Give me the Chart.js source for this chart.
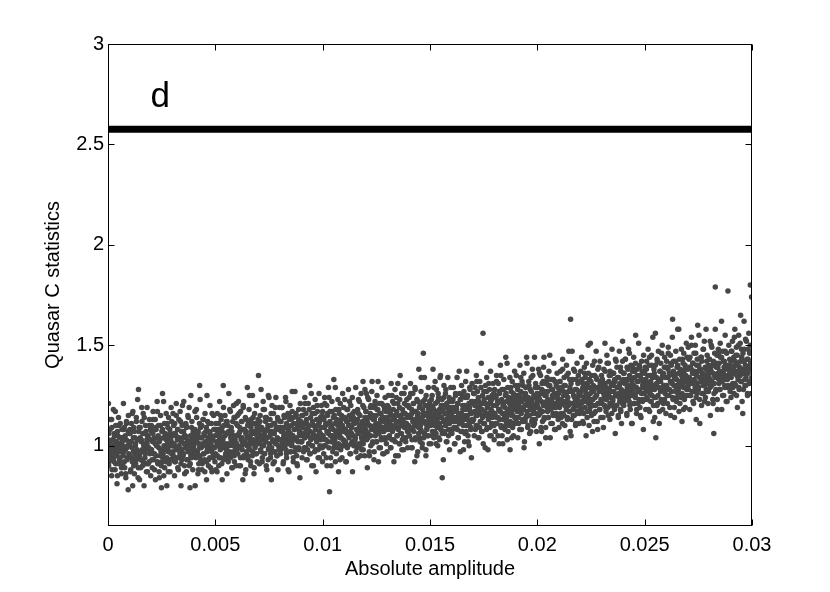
<!DOCTYPE html>
<html>
<head>
<meta charset="utf-8">
<script src="https://cdn.jsdelivr.net/npm/chart.js@4/dist/chart.umd.min.js"></script>
<style>
html,body{margin:0;padding:0;background:#fff;}
#wrap{width:830px;height:592px;}
</style>
</head>
<body>
<div id="wrap"><canvas id="c" width="830" height="592"></canvas></div>
<script>
// ---- data ----
// amplitude in units of 1e-5, C statistic in hundredths
const AMP_UNIT = 1e-5;
const C_UNIT = 0.01;
const amplitudeA = [
0,2,5,7,9,12,14,17,19,22,24,27,29,31,34,36,39,41,44,46,49,51,54,56,58,61,63,66,68,71,73,76,78,81,83,86,88,91,94,97,
101,103,106,108,111,113,115,118,120,123,125,128,130,132,135,137,140,142,145,147,150,152,155,157,159,162,164,167,169,172,174,177,179,182,184,187,189,192,195,198,
200,203,205,208,210,212,215,217,220,222,225,227,230,232,234,237,239,242,244,247,249,252,254,257,259,261,264,266,269,271,274,276,279,281,283,286,288,291,294,297,
301,303,306,308,311,313,316,318,321,323,325,328,330,333,335,338,340,342,345,347,350,352,355,357,360,362,364,367,369,372,374,377,379,382,384,386,389,391,394,397,
400,402,405,407,410,412,414,417,419,422,424,427,429,431,434,436,439,441,444,446,449,451,453,456,458,461,463,466,468,470,473,475,478,480,483,485,488,490,493,496,
501,503,506,508,511,513,515,518,520,523,525,528,530,532,535,537,540,542,545,547,550,552,555,557,559,562,564,567,569,572,574,577,579,582,584,587,589,592,595,598,
600,603,605,608,610,612,615,617,620,622,625,627,630,632,634,637,639,642,644,647,649,652,654,657,659,661,664,666,669,671,674,676,679,681,683,686,688,691,694,697,
701,703,706,708,711,713,716,718,721,723,725,728,730,733,735,738,740,742,745,747,750,752,755,757,760,762,764,767,769,772,774,777,779,782,784,787,789,791,794,797,
800,802,805,807,810,812,814,817,819,822,824,827,829,831,834,836,839,841,844,846,849,851,853,856,858,861,863,866,868,870,873,875,878,880,883,885,888,890,893,896,
901,903,906,908,911,913,915,918,920,923,925,928,930,932,935,937,940,942,945,947,950,952,955,957,959,962,964,967,969,972,974,977,979,982,984,987,989,992,995,998,
1000,1003,1005,1008,1010,1012,1015,1017,1020,1022,1025,1027,1030,1032,1034,1037,1039,1042,1044,1047,1049,1052,1054,1057,1059,1061,1064,1066,1069,1071,1074,1076,1079,1081,1083,1086,1088,1091,1094,1097,
1101,1103,1106,1108,1111,1113,1116,1118,1121,1123,1125,1128,1130,1133,1135,1138,1140,1142,1145,1147,1150,1152,1155,1157,1160,1162,1164,1167,1169,1172,1174,1177,1179,1182,1184,1187,1189,1191,1194,1197,
1200,1202,1205,1207,1210,1212,1214,1217,1219,1222,1224,1227,1229,1231,1234,1236,1239,1241,1244,1246,1249,1251,1253,1256,1258,1261,1263,1266,1268,1270,1273,1275,1278,1280,1283,1285,1288,1290,1293,1296,
1301,1303,1306,1308,1311,1313,1315,1318,1320,1323,1325,1328,1330,1332,1335,1337,1340,1342,1345,1347,1350,1352,1355,1357,1359,1362,1364,1367,1369,1372,1374,1377,1379,1382,1384,1387,1389,1392,1395,1398,
1400,1403,1405,1408,1410,1412,1415,1417,1420,1422,1425,1427,1430,1432,1434,1437,1439,1442,1444,1447,1449,1452,1454,1457,1459,1461,1464,1466,1469,1471,1474,1476,1479,1481,1483,1486,1488,1491,1494,1497,
1501,1503,1506,1508,1511,1513,1516,1518,1521,1523,1525,1528,1530,1533,1535,1538,1540,1542,1545,1547,1550,1552,1555,1557,1560,1562,1564,1567,1569,1572,1574,1577,1579,1582,1584,1587,1589,1591,1594,1597,
1600,1602,1605,1607,1610,1612,1614,1617,1619,1622,1624,1627,1629,1631,1634,1636,1639,1641,1644,1646,1649,1651,1653,1656,1658,1661,1663,1666,1668,1670,1673,1675,1678,1680,1683,1685,1688,1690,1693,1696,
1701,1703,1706,1708,1711,1713,1715,1718,1720,1723,1725,1728,1730,1732,1735,1737,1740,1742,1745,1747,1750,1752,1755,1757,1759,1762,1764,1767,1769,1772,1774,1777,1779,1782,1784,1787,1789,1792,1795,1798,
1800,1803,1805,1808,1810,1812,1815,1817,1820,1822,1825,1827,1830,1832,1834,1837,1839,1842,1844,1847,1849,1852,1854,1857,1859,1861,1864,1866,1869,1871,1874,1876,1879,1881,1883,1886,1888,1891,1894,1897,
1901,1903,1906,1908,1911,1913,1916,1918,1921,1923,1925,1928,1930,1933,1935,1938,1940,1942,1945,1947,1950,1952,1955,1957,1960,1962,1964,1967,1969,1972,1974,1977,1979,1982,1984,1987,1989,1991,1994,1997,
2000,2002,2005,2007,2010,2012,2014,2017,2019,2022,2024,2027,2029,2031,2034,2036,2039,2041,2044,2046,2049,2051,2053,2056,2058,2061,2063,2066,2068,2070,2073,2075,2078,2080,2083,2085,2088,2090,2093,2096,
2101,2103,2106,2108,2111,2113,2115,2118,2120,2123,2125,2128,2130,2132,2135,2137,2140,2142,2145,2147,2150,2152,2155,2157,2159,2162,2164,2167,2169,2172,2174,2177,2179,2182,2184,2187,2189,2192,2195,2198,
2200,2203,2205,2208,2210,2212,2215,2217,2220,2222,2225,2227,2230,2232,2234,2237,2239,2242,2244,2247,2249,2252,2254,2257,2259,2261,2264,2266,2269,2271,2274,2276,2279,2281,2283,2286,2288,2291,2294,2297,
2301,2303,2306,2308,2311,2313,2316,2318,2321,2323,2325,2328,2330,2333,2335,2338,2340,2342,2345,2347,2350,2352,2355,2357,2360,2362,2364,2367,2369,2372,2374,2377,2379,2382,2384,2387,2389,2391,2394,2397,
2400,2402,2405,2407,2410,2412,2414,2417,2419,2422,2424,2427,2429,2431,2434,2436,2439,2441,2444,2446,2449,2451,2453,2456,2458,2461,2463,2466,2468,2470,2473,2475,2478,2480,2483,2485,2488,2490,2493,2496,
2501,2503,2506,2508,2511,2513,2515,2518,2520,2523,2525,2528,2530,2532,2535,2537,2540,2542,2545,2547,2550,2552,2555,2557,2559,2562,2564,2567,2569,2572,2574,2577,2579,2582,2584,2587,2589,2592,2595,2598,
2600,2603,2605,2608,2610,2612,2615,2617,2620,2622,2625,2627,2630,2632,2634,2637,2639,2642,2644,2647,2649,2652,2654,2657,2659,2661,2664,2666,2669,2671,2674,2676,2679,2681,2683,2686,2688,2691,2694,2697,
2701,2703,2706,2708,2711,2713,2716,2718,2721,2723,2725,2728,2730,2733,2735,2738,2740,2742,2745,2747,2750,2752,2755,2757,2760,2762,2764,2767,2769,2772,2774,2777,2779,2782,2784,2787,2789,2791,2794,2797,
2800,2802,2805,2807,2810,2812,2814,2817,2819,2822,2824,2827,2829,2831,2834,2836,2839,2841,2844,2846,2849,2851,2853,2856,2858,2861,2863,2866,2868,2870,2873,2875,2878,2880,2883,2885,2888,2890,2893,2896,
2901,2903,2906,2908,2911,2913,2915,2918,2920,2923,2925,2928,2930,2932,2935,2937,2940,2942,2945,2947,2950,2952,2955,2957,2959,2962,2964,2967,2969,2972,2974,2977,2979,2982,2984,2987,2989,2992,2995,2998
];
const cStatA = [
97,121,92,101,108,95,99,113,88,103,100,94,106,98,117,91,102,96,85,105,99,110,93,101,97,104,89,104,100,95,108,92,103,98,86,111,99,94,107,102,
100,106,88,102,94,116,80,104,90,107,96,101,93,112,98,103,84,128,109,95,104,89,102,119,97,106,92,100,114,94,98,107,87,101,105,91,99,110,96,103,
98,107,93,102,113,96,104,88,101,109,95,100,117,91,105,99,84,103,110,97,79,92,108,96,122,100,89,106,98,103,94,111,99,87,104,97,108,93,102,100,
105,97,110,101,92,106,99,115,94,103,108,88,100,104,96,112,91,102,98,120,95,107,101,86,105,99,110,93,103,97,114,100,90,79,102,95,109,98,104,106,
100,96,108,102,94,118,103,97,106,88,101,130,95,109,99,104,91,100,113,96,105,87,102,107,92,125,98,104,93,111,100,106,89,101,97,116,103,94,108,99,
96,108,102,87,106,100,111,94,104,98,115,101,91,107,103,130,110,99,105,95,106,98,112,101,93,107,100,118,95,104,109,89,102,105,97,114,92,103,99,121,
101,110,96,105,116,99,107,90,103,112,98,102,120,94,108,101,86,106,113,100,104,95,111,99,125,103,92,109,101,106,97,114,102,89,107,100,111,96,105,103,
135,107,101,112,98,105,109,92,103,118,100,106,96,114,102,108,88,104,110,98,124,101,105,94,116,99,107,103,91,111,106,97,119,102,109,95,104,113,100,108,
103,112,98,107,119,101,109,92,105,114,100,104,122,96,110,103,88,108,115,102,106,97,113,101,127,105,94,111,103,108,99,116,104,91,109,102,113,98,107,105,
110,102,115,106,97,111,104,121,99,108,113,93,105,109,101,118,96,107,103,126,100,112,106,90,110,104,116,98,108,102,120,105,94,111,107,100,114,103,109,99,
105,114,100,109,121,103,111,94,107,116,102,106,124,77,112,105,90,110,117,104,108,99,115,103,129,107,96,113,105,110,101,118,106,93,111,104,115,100,109,107,
102,114,108,92,112,106,118,100,110,104,122,107,96,113,109,102,116,105,111,101,112,104,117,108,99,113,106,123,101,110,115,95,107,111,103,120,98,109,105,128,
108,117,103,112,124,106,114,97,110,119,105,109,127,101,115,108,93,113,120,107,111,102,118,106,132,110,99,116,108,113,104,121,109,96,114,107,118,103,112,110,
104,114,108,119,105,112,116,99,110,125,107,113,103,121,109,115,95,111,117,105,131,108,112,101,123,106,114,110,98,118,113,104,126,109,116,102,111,120,107,115,
110,119,105,114,126,108,116,99,112,121,107,111,129,103,117,110,95,115,122,109,113,104,120,108,134,112,101,118,146,115,106,123,111,98,116,109,120,105,114,112,
118,110,123,114,105,119,112,129,107,116,121,101,113,117,109,126,104,115,111,134,108,120,114,84,118,112,124,106,116,110,128,113,102,119,115,108,122,111,117,107,
115,117,108,123,112,119,101,114,126,109,118,113,121,104,115,137,111,123,107,116,112,125,118,98,113,120,106,132,114,110,124,115,102,119,111,129,117,108,122,113,
121,113,126,117,108,122,115,132,110,119,124,104,116,120,112,129,107,118,114,156,111,123,117,99,121,115,127,109,119,113,131,116,105,122,118,111,125,114,120,110,
116,125,111,120,132,114,122,105,118,127,113,117,135,109,123,116,101,121,128,115,119,110,126,114,141,118,107,124,116,121,112,129,117,104,122,115,126,111,120,118,
113,123,117,128,114,121,125,108,119,134,116,122,112,130,118,124,102,120,126,114,144,117,121,110,132,115,123,119,107,127,122,113,135,118,125,111,120,129,116,124,
120,129,115,124,136,118,126,109,122,131,117,121,139,113,127,120,104,125,132,119,123,114,130,118,145,122,111,128,120,125,116,133,121,108,126,119,130,115,124,122,
127,119,132,123,114,128,121,138,116,125,130,110,122,126,118,135,113,124,120,147,117,129,163,105,127,121,133,115,125,119,137,122,111,128,124,117,131,120,126,116,
125,127,118,133,122,129,111,124,136,119,128,123,131,114,125,150,121,133,117,126,122,135,128,107,123,130,116,142,124,120,134,125,112,129,121,139,127,118,132,123,
121,133,127,109,131,125,137,119,129,123,141,126,115,132,128,121,135,124,130,120,131,123,136,127,118,132,125,142,120,129,134,114,126,130,122,139,117,128,124,152,
127,136,122,131,143,125,133,116,129,138,124,128,146,120,134,127,111,132,139,126,130,121,137,125,155,129,118,135,127,132,123,140,128,115,133,126,137,122,131,129,
123,133,127,138,124,131,135,118,129,144,126,132,122,140,128,134,112,130,136,124,156,104,131,120,142,125,133,129,117,137,132,123,146,128,135,121,130,139,126,134,
130,139,125,134,146,128,136,119,132,141,127,131,163,123,137,130,114,135,142,129,133,124,140,128,158,132,121,138,130,135,126,143,131,118,136,129,140,125,134,132,
138,130,143,134,125,139,132,150,127,136,141,121,133,137,129,146,124,135,131,160,128,140,134,111,138,132,144,126,136,130,148,133,122,139,135,128,142,131,137,127,
134,143,129,138,150,132,140,123,136,106,131,135,179,127,141,134,118,139,146,133,137,128,144,132,162,136,125,142,134,139,130,147,135,122,140,133,177,129,138,136,
142,134,147,138,129,143,136,154,131,140,145,125,137,141,133,150,128,139,135,165,132,144,138,116,142,136,148,130,140,134,152,137,126,143,139,132,146,180,141,174
];
const amplitudeB = [
1,3,4,8,10,11,14,17,18,22,24,25,28,30,33,35,36,40,42,44,45,49,51,53,56,57,60,62,65,66,69,72,73,76,78,80,83,85,86,89,91,94,95,97,99,
100,102,105,106,109,112,113,116,119,120,123,126,127,129,132,134,137,138,141,143,146,147,150,152,155,158,159,161,164,167,168,171,174,175,177,181,182,184,187,190,192,193,196,198,199,
202,203,206,209,210,213,215,216,220,221,224,227,229,231,232,235,238,239,243,245,247,248,251,254,255,258,260,263,264,267,270,271,274,277,279,281,282,285,288,289,292,294,296,297,299,
301,303,304,308,310,311,314,317,318,322,324,325,328,330,333,335,336,340,342,344,345,349,351,353,356,357,360,362,365,366,369,372,373,376,378,380,383,385,386,389,391,394,395,397,399,
400,402,405,406,409,412,413,416,419,420,423,426,427,429,432,434,437,438,441,443,446,447,450,452,455,458,459,461,464,467,468,471,474,475,477,481,482,484,487,490,492,493,496,498,499,
502,503,506,509,510,513,515,516,520,521,524,527,529,531,532,535,538,539,543,545,547,548,551,554,555,558,560,563,564,567,570,571,574,577,579,581,582,585,588,589,592,594,596,597,599,
601,603,604,608,610,611,614,617,618,622,624,625,628,630,633,635,636,640,642,644,645,649,651,653,656,657,660,662,665,666,669,672,673,676,678,680,683,685,686,689,691,694,695,697,699,
700,702,705,706,709,712,713,716,719,720,723,726,727,729,732,734,737,738,741,743,746,747,750,752,755,758,759,761,764,767,768,771,774,775,777,781,782,784,787,790,792,793,796,798,799,
802,803,806,809,810,813,815,816,820,821,824,827,829,831,832,835,838,839,843,845,847,848,851,854,855,858,860,863,864,867,870,871,874,877,879,881,882,885,888,889,892,894,896,897,899,
901,903,904,908,910,911,914,917,918,922,924,925,928,930,933,935,936,940,942,944,945,949,951,953,956,957,960,962,965,966,969,972,973,976,978,980,983,985,986,989,991,994,995,997,999,
1000,1002,1005,1006,1009,1012,1013,1016,1019,1020,1023,1026,1027,1029,1032,1034,1037,1038,1041,1043,1046,1047,1050,1052,1055,1058,1059,1061,1064,1067,1068,1071,1074,1075,1077,1081,1082,1084,1087,1090,1092,1093,1096,1098,1099,
1102,1103,1106,1109,1110,1113,1115,1116,1120,1121,1124,1127,1129,1131,1132,1135,1138,1139,1143,1145,1147,1148,1151,1154,1155,1158,1160,1163,1164,1167,1170,1171,1174,1177,1179,1181,1182,1185,1188,1189,1192,1194,1196,1197,1199,
1201,1203,1204,1208,1210,1211,1214,1217,1218,1222,1224,1225,1228,1230,1233,1235,1236,1240,1242,1244,1245,1249,1251,1253,1256,1257,1260,1262,1265,1266,1269,1272,1273,1276,1278,1280,1283,1285,1286,1289,1291,1294,1295,1297,1299,
1300,1302,1305,1306,1309,1312,1313,1316,1319,1320,1323,1326,1327,1329,1332,1334,1337,1338,1341,1343,1346,1347,1350,1352,1355,1358,1359,1361,1364,1367,1368,1371,1374,1375,1377,1381,1382,1384,1387,1390,1392,1393,1396,1398,1399,
1402,1403,1406,1409,1410,1413,1415,1416,1420,1421,1424,1427,1429,1431,1432,1435,1438,1439,1443,1445,1447,1448,1451,1454,1455,1458,1460,1463,1464,1467,1470,1471,1474,1477,1479,1481,1482,1485,1488,1489,1492,1494,1496,1497,1499,
1501,1503,1504,1508,1510,1511,1514,1517,1518,1522,1524,1525,1528,1530,1533,1535,1536,1540,1542,1544,1545,1549,1551,1553,1556,1557,1560,1562,1565,1566,1569,1572,1573,1576,1578,1580,1583,1585,1586,1589,1591,1594,1595,1597,1599,
1600,1602,1605,1606,1609,1612,1613,1616,1619,1620,1623,1626,1627,1629,1632,1634,1637,1638,1641,1643,1646,1647,1650,1652,1655,1658,1659,1661,1664,1667,1668,1671,1674,1675,1677,1681,1682,1684,1687,1690,1692,1693,1696,1698,1699,
1702,1703,1706,1709,1710,1713,1715,1716,1720,1721,1724,1727,1729,1731,1732,1735,1738,1739,1743,1745,1747,1748,1751,1754,1755,1758,1760,1763,1764,1767,1770,1771,1774,1777,1779,1781,1782,1785,1788,1789,1792,1794,1796,1797,1799,
1801,1803,1804,1808,1810,1811,1814,1817,1818,1822,1824,1825,1828,1830,1833,1835,1836,1840,1842,1844,1845,1849,1851,1853,1856,1857,1860,1862,1865,1866,1869,1872,1873,1876,1878,1880,1883,1885,1886,1889,1891,1894,1895,1897,1899,
1900,1902,1905,1906,1909,1912,1913,1916,1919,1920,1923,1926,1927,1929,1932,1934,1937,1938,1941,1943,1946,1947,1950,1952,1955,1958,1959,1961,1964,1967,1968,1971,1974,1975,1977,1981,1982,1984,1987,1990,1992,1993,1996,1998,1999,
2002,2003,2006,2009,2010,2013,2015,2016,2020,2021,2024,2027,2029,2031,2032,2035,2038,2039,2043,2045,2047,2048,2051,2054,2055,2058,2060,2063,2064,2067,2070,2071,2074,2077,2079,2081,2082,2085,2088,2089,2092,2094,2096,2097,2099,
2101,2103,2104,2108,2110,2111,2114,2117,2118,2122,2124,2125,2128,2130,2133,2135,2136,2140,2142,2144,2145,2149,2151,2153,2156,2157,2160,2162,2165,2166,2169,2172,2173,2176,2178,2180,2183,2185,2186,2189,2191,2194,2195,2197,2199,
2200,2202,2205,2206,2209,2212,2213,2216,2219,2220,2223,2226,2227,2229,2232,2234,2237,2238,2241,2243,2246,2247,2250,2252,2255,2258,2259,2261,2264,2267,2268,2271,2274,2275,2277,2281,2282,2284,2287,2290,2292,2293,2296,2298,2299,
2302,2303,2306,2309,2310,2313,2315,2316,2320,2321,2324,2327,2329,2331,2332,2335,2338,2339,2343,2345,2347,2348,2351,2354,2355,2358,2360,2363,2364,2367,2370,2371,2374,2377,2379,2381,2382,2385,2388,2389,2392,2394,2396,2397,2399,
2401,2403,2404,2408,2410,2411,2414,2417,2418,2422,2424,2425,2428,2430,2433,2435,2436,2440,2442,2444,2445,2449,2451,2453,2456,2457,2460,2462,2465,2466,2469,2472,2473,2476,2478,2480,2483,2485,2486,2489,2491,2494,2495,2497,2499,
2500,2502,2505,2506,2509,2512,2513,2516,2519,2520,2523,2526,2527,2529,2532,2534,2537,2538,2541,2543,2546,2547,2550,2552,2555,2558,2559,2561,2564,2567,2568,2571,2574,2575,2577,2581,2582,2584,2587,2590,2592,2593,2596,2598,2599,
2602,2603,2606,2609,2610,2613,2615,2616,2620,2621,2624,2627,2629,2631,2632,2635,2638,2639,2643,2645,2647,2648,2651,2654,2655,2658,2660,2663,2664,2667,2670,2671,2674,2677,2679,2681,2682,2685,2688,2689,2692,2694,2696,2697,2699,
2701,2703,2704,2708,2710,2711,2714,2717,2718,2722,2724,2725,2728,2730,2733,2735,2736,2740,2742,2744,2745,2749,2751,2753,2756,2757,2760,2762,2765,2766,2769,2772,2773,2776,2778,2780,2783,2785,2786,2789,2791,2794,2795,2797,2799,
2800,2802,2805,2806,2809,2812,2813,2816,2819,2820,2823,2826,2827,2829,2832,2834,2837,2838,2841,2843,2846,2847,2850,2852,2855,2858,2859,2861,2864,2867,2868,2871,2874,2875,2877,2881,2882,2884,2887,2890,2892,2893,2896,2898,2899,
2902,2903,2906,2909,2910,2913,2915,2916,2920,2921,2924,2927,2929,2931,2932,2935,2938,2939,2943,2945,2947,2948,2951,2954,2955,2958,2960,2963,2964,2967,2970,2971,2974,2977,2979,2981,2982,2985,2988,2989,2992,2994,2996,2997,2999
];
const cStatB = [
103,90,106,97,113,93,101,85,109,96,103,118,92,105,88,100,110,95,81,107,98,114,91,104,94,111,99,86,108,102,91,121,97,109,89,105,84,103,112,93,100,78,115,96,106,
95,108,87,102,111,99,92,117,97,109,86,104,100,91,114,94,103,123,89,107,97,83,109,93,103,112,98,90,116,101,80,106,96,110,91,103,119,87,105,99,92,113,97,108,85,
110,98,89,106,117,93,103,96,113,83,108,100,122,92,104,110,87,102,95,115,98,90,107,126,94,104,85,111,99,105,92,116,80,101,109,97,114,91,106,87,103,119,96,112,93,
100,116,95,106,85,111,92,105,121,98,108,89,103,113,94,99,117,80,107,93,110,104,96,122,90,105,101,111,87,109,99,115,93,102,119,97,91,105,125,94,112,100,88,107,103,
108,98,117,80,102,95,114,105,86,107,91,111,99,123,93,104,110,88,101,113,96,106,93,116,100,109,83,97,112,102,90,107,94,120,105,98,111,87,103,95,115,99,108,92,105,
88,111,100,116,95,102,108,90,122,106,94,113,99,109,83,104,119,93,101,115,106,96,112,86,100,110,92,126,106,97,117,94,103,107,89,112,100,120,95,102,114,105,90,111,98,
96,115,99,122,106,90,109,94,117,100,112,104,83,119,95,108,102,114,88,107,97,129,110,93,101,118,98,105,90,113,107,95,125,103,111,86,116,99,106,96,120,109,92,101,113,
106,110,91,103,115,97,128,108,94,100,122,105,96,118,102,112,90,114,104,108,93,125,99,107,113,96,110,83,120,102,97,116,106,92,111,101,124,108,95,114,88,109,98,119,103,
109,96,112,103,119,99,107,91,115,102,109,124,98,111,94,106,116,101,87,113,104,120,97,110,100,117,105,92,114,108,97,127,103,115,95,111,90,109,118,99,106,84,121,102,112,
102,115,94,109,118,106,99,124,104,116,93,111,107,98,121,101,110,130,96,114,104,90,116,100,110,119,105,97,123,108,87,113,103,117,98,110,126,94,112,106,99,120,104,115,92,
117,105,96,113,124,100,110,103,120,90,115,107,129,99,111,117,94,109,102,122,105,97,114,133,101,111,92,118,106,112,99,123,87,108,116,104,121,98,113,94,110,126,103,119,100,
107,123,102,113,92,118,99,112,128,105,115,96,110,120,101,106,124,87,114,100,117,111,103,129,97,112,108,118,94,116,106,122,100,109,126,104,98,112,132,101,119,107,95,114,110,
117,107,126,89,111,104,123,114,95,116,100,120,108,132,102,113,119,97,110,122,105,115,102,125,109,118,92,106,121,111,99,116,103,129,114,107,120,96,112,104,124,108,117,101,114,
97,120,109,125,104,111,117,99,131,115,103,122,108,118,92,113,128,102,110,124,115,105,121,95,109,119,101,135,115,106,126,103,112,116,98,121,109,129,104,111,123,114,99,120,107,
105,124,108,131,115,99,118,103,126,109,121,113,92,128,104,117,111,123,97,116,106,138,119,102,110,127,107,114,99,122,116,104,134,112,120,95,125,108,115,105,129,118,101,110,122,
116,120,101,113,125,107,138,118,104,110,132,115,106,128,112,122,100,124,114,118,103,135,109,117,123,106,120,93,130,112,107,126,116,102,121,111,134,118,105,124,98,119,108,129,113,
119,106,122,113,129,109,117,101,125,112,119,134,108,121,104,116,126,111,97,123,114,130,107,120,110,127,115,102,124,118,107,137,113,125,105,121,100,119,128,109,116,94,131,112,122,
113,126,105,120,129,117,110,135,115,127,104,122,118,109,132,112,121,141,107,125,115,101,127,111,121,130,116,108,134,119,98,124,114,128,109,121,137,105,123,117,110,131,115,126,103,
128,116,107,124,135,111,121,114,131,101,126,118,140,110,122,128,105,120,113,133,116,108,125,144,112,122,103,129,117,123,110,134,98,119,127,115,132,109,124,105,121,137,114,130,111,
119,135,114,125,104,130,111,124,140,117,127,108,122,132,113,118,136,99,126,112,129,123,115,141,109,124,120,130,106,128,118,134,112,121,138,116,110,124,144,113,131,119,107,126,122,
129,119,138,101,123,116,135,126,107,128,112,132,120,144,114,125,131,109,122,134,117,127,114,137,121,130,104,118,133,123,111,128,115,141,126,119,132,108,124,116,136,120,129,113,126,
109,132,121,137,116,123,129,111,143,127,115,134,120,130,104,125,140,114,122,136,127,117,133,107,121,131,113,147,127,118,138,115,124,128,110,133,121,141,116,123,135,126,111,132,119,
118,137,121,144,128,112,131,116,139,122,134,126,105,141,117,130,124,136,110,129,119,151,132,115,123,140,120,127,112,135,129,117,147,125,133,108,138,121,128,118,142,131,114,123,135,
129,133,114,126,138,120,151,131,117,123,145,128,119,141,125,135,113,137,127,131,116,148,122,130,136,119,133,106,143,125,120,139,129,115,134,124,147,131,118,137,111,132,121,142,126,
133,120,136,127,143,123,131,115,139,126,133,148,122,135,118,130,140,125,111,137,128,144,121,134,124,141,129,116,138,132,121,151,127,139,119,135,114,133,142,123,130,108,145,126,136,
126,139,118,133,142,130,123,148,128,140,117,135,131,122,145,125,134,154,120,138,128,114,140,124,134,143,129,121,147,132,111,137,127,141,122,134,150,118,136,130,123,144,128,139,116,
142,130,121,138,149,125,135,128,145,115,140,132,154,124,136,142,119,134,127,147,130,122,139,158,126,136,117,143,131,137,124,148,112,133,141,129,146,123,138,119,135,151,128,144,125,
133,149,128,139,118,144,125,138,154,131,141,122,136,146,127,132,150,113,140,126,143,137,129,155,123,138,134,144,120,142,132,148,126,135,152,130,124,138,158,127,145,133,121,140,136,
143,133,152,115,137,130,149,140,121,142,126,146,134,158,128,139,145,123,136,148,131,141,128,151,135,144,118,132,147,137,125,142,129,155,140,133,146,122,138,130,150,134,143,127,140,
124,147,136,152,131,138,144,126,158,142,130,149,135,145,119,140,155,129,137,151,142,132,148,122,136,146,128,162,142,133,153,130,139,143,125,148,136,156,131,138,150,141,126,147,134
];
const thresholdC = 2.575;
const thresholdAmp = [0, 0.03];
const xTicks = [0, 0.005, 0.01, 0.015, 0.02, 0.025, 0.03];
const xTickLabels = ['0', '0.005', '0.01', '0.015', '0.02', '0.025', '0.03'];
const yTicks = [1, 1.5, 2, 2.5, 3];
const yTickLabels = ['1', '1.5', '2', '2.5', '3'];
const panelLabel = 'd';
const xTitle = 'Absolute amplitude';
const yTitle = 'Quasar C statistics';

// ---- chart ----
const FONT = "'Liberation Sans', Arial, Helvetica, sans-serif";
Chart.defaults.font.family = FONT;
Chart.defaults.color = '#000';

const pts = [];
function addRun(amps, cs) {
  const n = Math.min(amps.length, cs.length);
  for (let i = 0; i < n; i++) pts.push({x: amps[i] * AMP_UNIT, y: cs[i] * C_UNIT});
}
addRun(amplitudeA, cStatA);
addRun(amplitudeB, cStatB);

const frame = {
  id: 'frame',
  afterDatasetsDraw(chart) {
    const {ctx, chartArea: a, scales: {x, y}} = chart;
    ctx.save();
    ctx.strokeStyle = '#000';
    ctx.lineWidth = 1;
    const L = Math.round(a.left) + 0.5, R = Math.round(a.right) - 0.5;
    const T = Math.round(a.top) + 0.5, B = Math.round(a.bottom) - 0.5;
    ctx.strokeRect(L, T, R - L, B - T);
    const tl = 6;
    ctx.beginPath();
    xTicks.forEach(v => {
      const px = Math.round(x.getPixelForValue(v)) + 0.5;
      ctx.moveTo(px, B); ctx.lineTo(px, B - tl);
      ctx.moveTo(px, T); ctx.lineTo(px, T + tl);
    });
    yTicks.forEach(v => {
      const py = Math.round(y.getPixelForValue(v)) + 0.5;
      ctx.moveTo(L, py); ctx.lineTo(L + tl, py);
      ctx.moveTo(R, py); ctx.lineTo(R - tl, py);
    });
    ctx.stroke();
    ctx.fillStyle = '#000';
    ctx.font = '35px ' + FONT;
    ctx.textAlign = 'left';
    ctx.textBaseline = 'alphabetic';
    ctx.fillText(panelLabel, x.getPixelForValue(0.00198), y.getPixelForValue(2.686));
    ctx.restore();
  }
};

new Chart(document.getElementById('c'), {
  type: 'scatter',
  data: {
    datasets: [
      {
        label: 'threshold',
        data: thresholdAmp.map(a => ({x: a, y: thresholdC})),
        showLine: true,
        borderColor: '#000',
        borderWidth: 7,
        pointRadius: 0,
        clip: 0
      },
      {
        label: 'C statistics',
        data: pts,
        pointRadius: 2.75,
        pointBackgroundColor: '#474747',
        pointBorderWidth: 0,
        borderWidth: 0,
        clip: 0
      }
    ]
  },
  options: {
    responsive: false,
    animation: false,
    devicePixelRatio: 1,
    layout: {padding: {left: 0, right: 78, top: 44, bottom: 0}},
    plugins: {legend: {display: false}, tooltip: {enabled: false}},
    scales: {
      x: {
        type: 'linear', min: 0, max: 0.03,
        afterBuildTicks(s) { s.ticks = xTicks.map(v => ({value: v})); },
        afterFit(s) { s.height = 66; },
        ticks: {callback: (v, i) => xTickLabels[i], padding: 7, font: {size: 20}, maxRotation: 0, autoSkip: false, color: '#000'},
        grid: {display: false, drawTicks: false},
        border: {display: false},
        title: {display: true, text: xTitle, font: {size: 20}, color: '#000', padding: {top: 0, bottom: 11}}
      },
      y: {
        type: 'linear', min: 0.6, max: 3,
        afterBuildTicks(s) { s.ticks = yTicks.map(v => ({value: v})); },
        afterFit(s) { s.width = 108; },
        ticks: {callback: (v, i) => yTickLabels[i], padding: 4, font: {size: 20}, autoSkip: false, color: '#000'},
        grid: {display: false, drawTicks: false},
        border: {display: false},
        title: {display: true, text: yTitle, font: {size: 20}, color: '#000', padding: {top: 41, bottom: 0}}
      }
    }
  },
  plugins: [frame]
});
</script>
</body>
</html>
